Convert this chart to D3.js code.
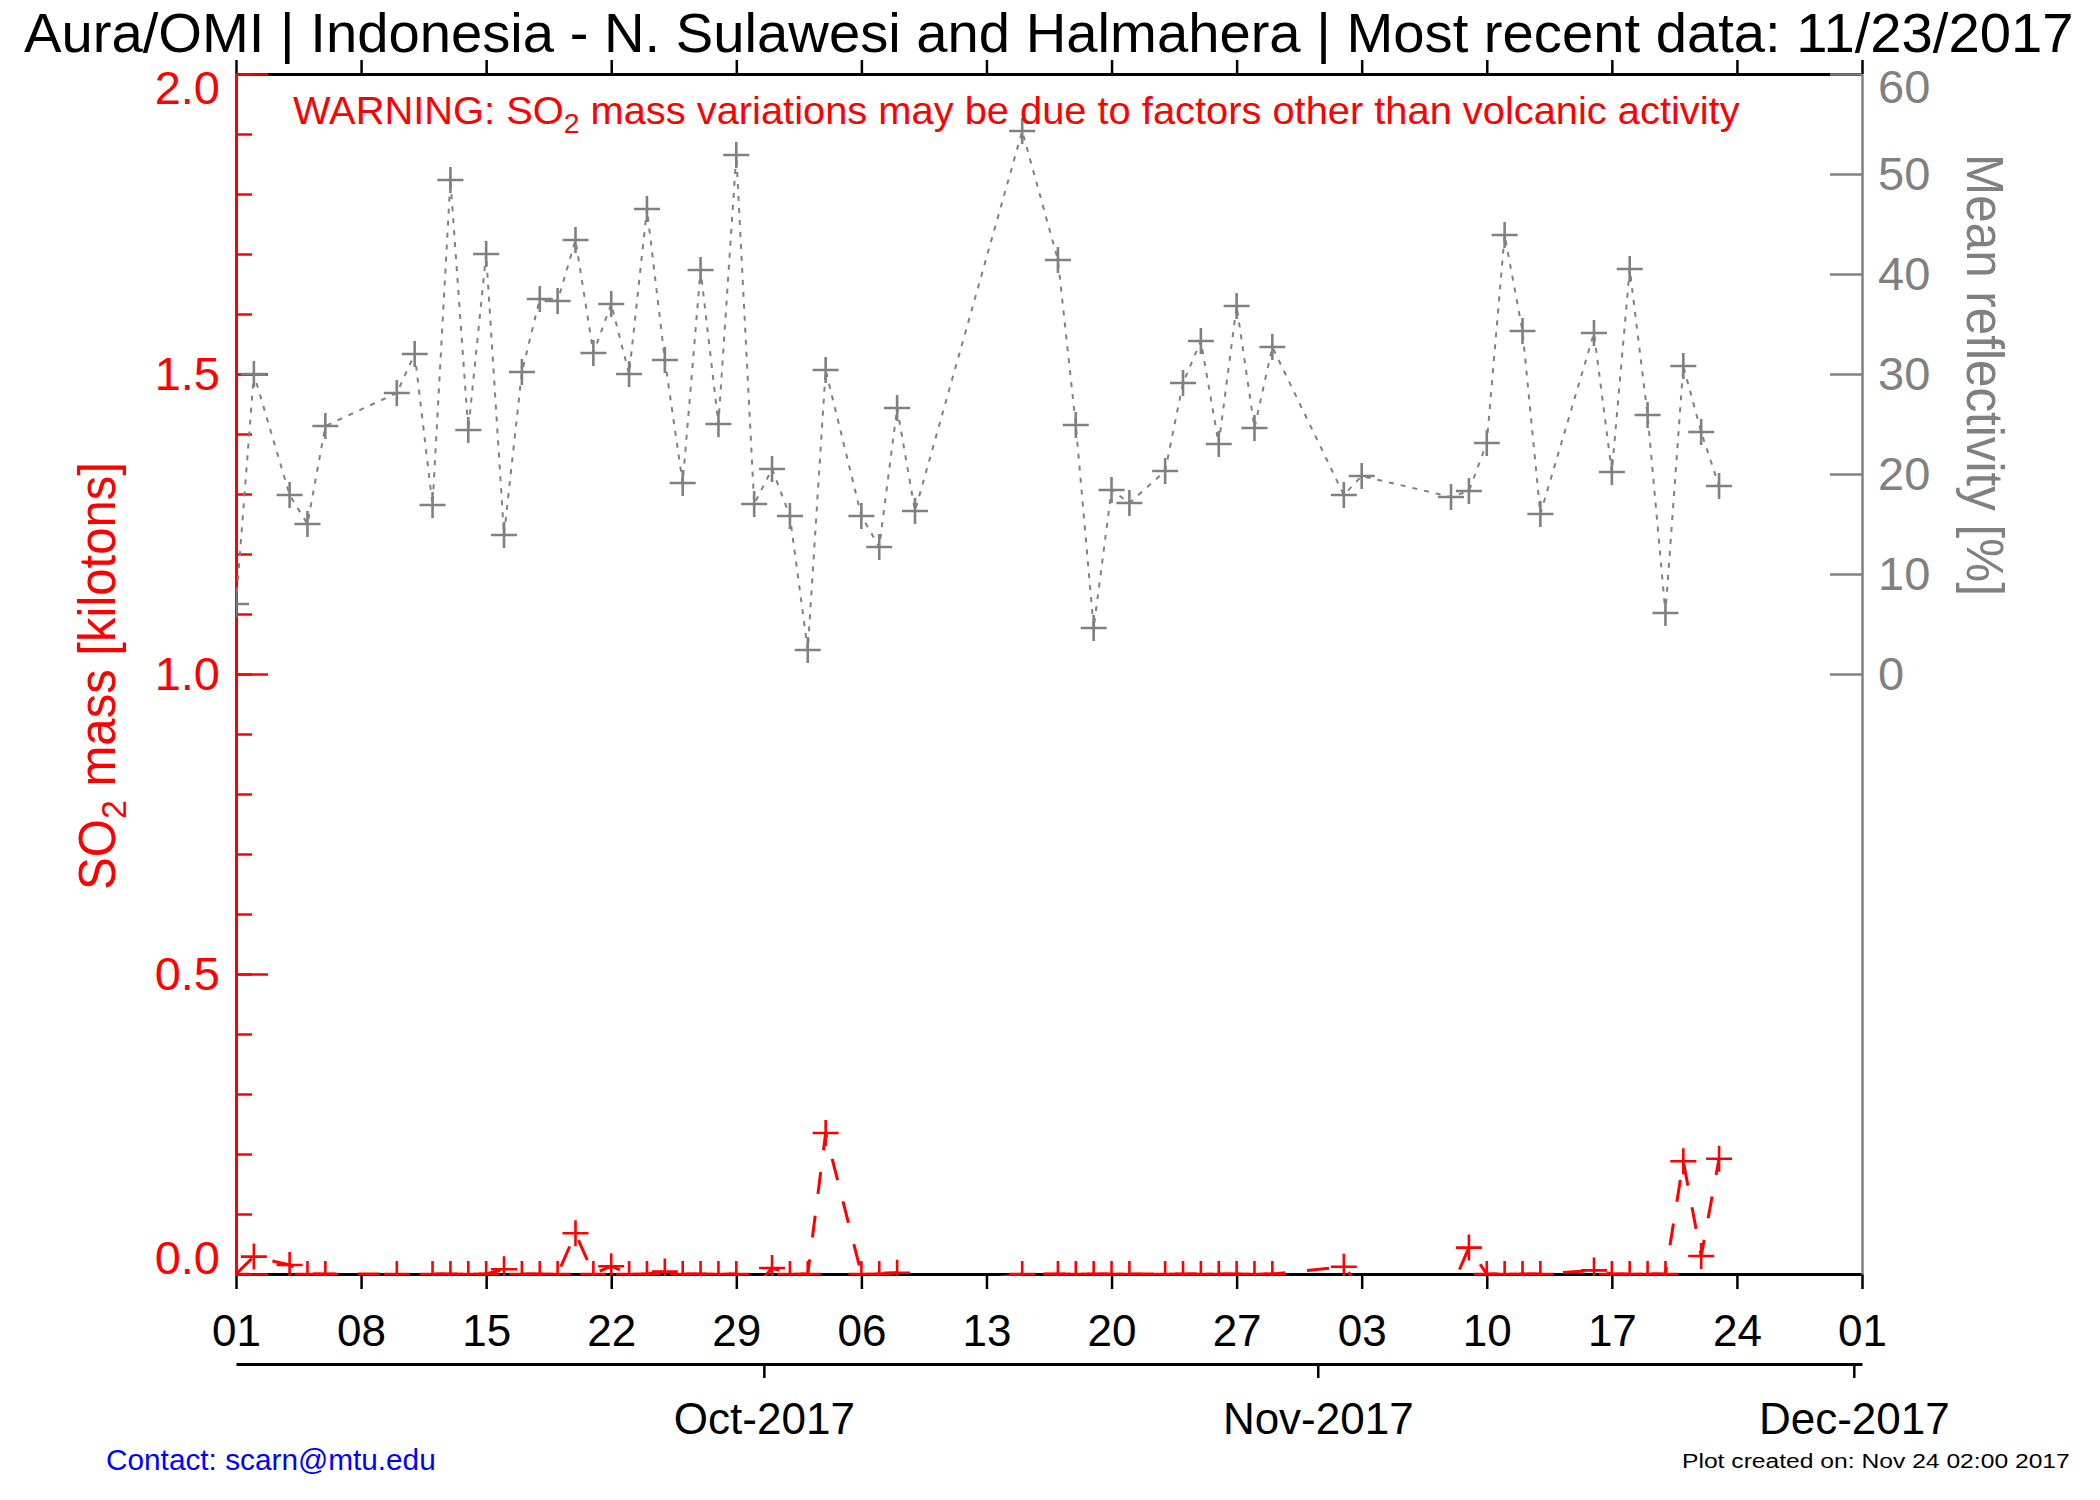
<!DOCTYPE html>
<html>
<head>
<meta charset="utf-8">
<script src="https://cdn.jsdelivr.net/npm/d3@7"></script>
<style>
  body { margin: 0; background: #fff; }
  svg text { font-family: "Liberation Sans", Arial, Helvetica, sans-serif; }
</style>
</head>
<body>
<svg id="chart" width="2100" height="1500"></svg>
<script>
var width = 2100;
var height = 1500;

// OMI overpass dates with data for the region
var dates = [
  "2017-09-01","2017-09-02","2017-09-04","2017-09-05","2017-09-06","2017-09-10","2017-09-11",
  "2017-09-12","2017-09-13","2017-09-14","2017-09-15","2017-09-16","2017-09-17","2017-09-18",
  "2017-09-19","2017-09-20","2017-09-21","2017-09-22","2017-09-23","2017-09-24","2017-09-25",
  "2017-09-26","2017-09-27","2017-09-28","2017-09-29","2017-09-30","2017-10-01","2017-10-02",
  "2017-10-03","2017-10-04","2017-10-06","2017-10-07","2017-10-08","2017-10-09","2017-10-15",
  "2017-10-17","2017-10-18","2017-10-19","2017-10-20","2017-10-21","2017-10-23","2017-10-24",
  "2017-10-25","2017-10-26","2017-10-27","2017-10-28","2017-10-29","2017-11-02","2017-11-03",
  "2017-11-08","2017-11-09","2017-11-10","2017-11-11","2017-11-12","2017-11-13","2017-11-16",
  "2017-11-17","2017-11-18","2017-11-19","2017-11-20","2017-11-21","2017-11-22","2017-11-23"
];

// SO2 mass [kilotons]
var so2Mass = [
  0.000, 0.029, 0.015, 0.000, 0.000, 0.000, -0.025,
  0.000, 0.000, 0.000, 0.000, 0.008, 0.000, 0.000,
  0.000, 0.068, 0.000, 0.013, 0.000, 0.000, 0.004,
  0.000, 0.000, 0.000, 0.000, -0.025, 0.010, 0.000,
  0.000, 0.235, 0.000, 0.000, 0.002, -0.025, 0.000,
  0.000, 0.000, 0.000, 0.000, 0.000, 0.000, 0.000,
  0.000, 0.000, 0.000, 0.000, 0.000, 0.012, -0.025,
  -0.025, 0.044, 0.000, 0.000, 0.000, 0.000, 0.006,
  0.000, 0.000, 0.000, 0.000, 0.188, 0.030, 0.192
];

// mean reflectivity [%]
var reflectivity = [
  7.0, 30.0, 17.9, 15.0, 24.8, 28.1, 32.0,
  16.9, 49.4, 24.4, 42.0, 13.9, 30.2, 37.5,
  37.3, 43.4, 32.1, 37.0, 30.0, 46.5, 31.4,
  19.1, 40.4, 25.0, 51.9, 17.0, 20.5, 15.8,
  2.4, 30.4, 15.8, 12.7, 26.6, 16.3, 54.3,
  41.4, 24.9, 4.6, 18.4, 17.1, 20.3, 29.1,
  33.3, 23.0, 36.8, 24.6, 32.7, 17.9, 19.8,
  17.7, 18.3, 23.1, 43.9, 34.3, 16.0, 34.1,
  20.2, 40.5, 25.9, 6.1, 30.8, 24.2, 18.8
];

var dayTicks = ["2017-09-01","2017-09-08","2017-09-15","2017-09-22","2017-09-29","2017-10-06",
  "2017-10-13","2017-10-20","2017-10-27","2017-11-03","2017-11-10","2017-11-17","2017-11-24","2017-12-01"];
var monthTicks = ["2017-10-01","2017-11-01","2017-12-01"];
var so2Ticks = [0, 0.5, 1.0, 1.5, 2.0];
var so2MinorTicks = d3.range(0, 21).map(function(i) { return i / 10; });
var reflTicks = [0, 10, 20, 30, 40, 50, 60];

var RED = "#ff0000", GRAY = "#808080";
var plot = {left: 236, right: 1862, top: 74, bottom: 1274};

var parse = d3.utcParse("%Y-%m-%d");

var x = d3.scaleUtc()
    .domain([parse("2017-09-01"), parse("2017-12-01")])
    .range([plot.left, plot.right]);
// month labels sit about half a day before the month boundary in the original plot
var xMonth = d3.scaleUtc()
    .domain(x.domain().map(function(d) { return d3.utcHour.offset(d, 11); }))
    .range(x.range());
var ySo2 = d3.scaleLinear().domain([0, 2]).range([plot.bottom, plot.top]);
// reflectivity only uses the upper half of the frame
var yRefl = d3.scaleLinear().domain([-60, 60]).range([plot.bottom, plot.top]);

var svg = d3.select("#chart");
svg.append("rect").attr("width", width).attr("height", height).attr("fill", "#fff");

function styleAxis(g, color, lineW, tickW, fontSize) {
  g.attr("font-family", null).attr("font-size", fontSize);
  g.select(".domain").attr("stroke", color).attr("stroke-width", lineW);
  g.selectAll(".tick line").attr("stroke", color).attr("stroke-width", tickW);
  g.selectAll(".tick text").attr("fill", color);
}

// scale a text horizontally so it spans w pixels
function fitWidth(sel, w, anchorX) {
  var natural = sel.node().getComputedTextLength();
  var f = w / natural;
  sel.attr("transform", "translate(" + anchorX + ",0) scale(" + f + ",1) translate(" + (-anchorX) + ",0)");
}

// ---- x axes ----
var gTop = svg.append("g").attr("transform", "translate(0," + plot.top + ")")
    .call(d3.axisTop(x).tickValues(dayTicks.map(parse)).tickSize(14).tickSizeOuter(0).tickFormat(""));
styleAxis(gTop, "#000", 3, 2.5, 44);

var gBot = svg.append("g").attr("transform", "translate(0," + plot.bottom + ")")
    .call(d3.axisBottom(x).tickValues(dayTicks.map(parse)).tickSize(15).tickPadding(26)
      .tickSizeOuter(0).tickFormat(d3.utcFormat("%d")));
styleAxis(gBot, "#000", 3, 2.5, 44);

var gMonth = svg.append("g").attr("transform", "translate(0,1364)")
    .call(d3.axisBottom(xMonth).tickValues(monthTicks.map(parse)).tickSize(14).tickPadding(25)
      .tickSizeOuter(0).tickFormat(d3.utcFormat("%b-%Y")));
styleAxis(gMonth, "#000", 3, 2.5, 44);

// ---- left axis (SO2) ----
var gLMinor = svg.append("g").attr("transform", "translate(" + plot.left + ",0)")
    .call(d3.axisLeft(ySo2).tickValues(so2MinorTicks).tickSize(-16).tickSizeOuter(0).tickFormat(""));
styleAxis(gLMinor, RED, 3, 2.5, 47);
var gL = svg.append("g").attr("transform", "translate(" + plot.left + ",0)")
    .call(d3.axisLeft(ySo2).tickValues(so2Ticks).tickSize(-32).tickPadding(16)
      .tickSizeOuter(0).tickFormat(d3.format(".1f")));
styleAxis(gL, RED, 3, 2.5, 47);
gL.selectAll(".tick text").filter(function(d) { return d === 2; }).attr("y", 14);
gL.selectAll(".tick text").filter(function(d) { return d === 0; }).attr("y", -16);

// ---- right axis (reflectivity) ----
var gR = svg.append("g").attr("transform", "translate(" + plot.right + ",0)")
    .call(d3.axisRight(yRefl).tickValues(reflTicks).tickSize(-32).tickPadding(16)
      .tickSizeOuter(0).tickFormat(d3.format("d")));
styleAxis(gR, GRAY, 2.5, 2.5, 47);
gR.selectAll(".tick text").filter(function(d) { return d === 60; }).attr("y", 13);

// ---- data ----
var points = dates.map(function(d, i) {
  return {date: parse(d), so2: so2Mass[i], refl: reflectivity[i]};
});

svg.append("clipPath").attr("id", "plotClip")
  .append("rect")
    .attr("x", plot.left).attr("y", plot.top - 2)
    .attr("width", plot.right - plot.left).attr("height", plot.bottom - plot.top + 4);

var gData = svg.append("g").attr("clip-path", "url(#plotClip)");

// IDL style "+" plot symbol drawn with strokes
var plusType = {
  draw: function(context, size) {
    var r = Math.sqrt(size) / 2;
    context.moveTo(-r, 0); context.lineTo(r, 0);
    context.moveTo(0, -r); context.lineTo(0, r);
  }
};
var plus = d3.symbol().type(plusType).size(26 * 26);

function drawSeries(accessor, yScale, color, dash, lineW) {
  gData.append("path")
    .datum(points)
    .attr("fill", "none")
    .attr("stroke", color)
    .attr("stroke-width", lineW)
    .attr("stroke-dasharray", dash)
    .attr("d", d3.line().x(function(d) { return x(d.date); }).y(function(d) { return yScale(accessor(d)); }));

  gData.append("g").selectAll("path")
    .data(points)
    .join("path")
      .attr("transform", function(d) { return "translate(" + x(d.date) + "," + yScale(accessor(d)) + ")"; })
      .attr("d", plus)
      .attr("fill", "none")
      .attr("stroke", color)
      .attr("stroke-width", 2.6);
}

drawSeries(function(d) { return d.refl; }, yRefl, GRAY, "5,7", 2);
drawSeries(function(d) { return d.so2; }, ySo2, RED, "22,22", 3);

// ---- texts ----
var title = svg.append("text")
    .attr("x", 24).attr("y", 52)
    .attr("font-size", 56).attr("fill", "#000")
    .text("Aura/OMI | Indonesia - N. Sulawesi and Halmahera | Most recent data: 11/23/2017");
fitWidth(title, 2050, 24);

var warn = svg.append("text")
    .attr("x", 293).attr("y", 124)
    .attr("font-size", 38).attr("fill", RED);
warn.append("tspan").text("WARNING: SO");
warn.append("tspan").attr("font-size", 27).attr("dy", 9).text("2");
warn.append("tspan").attr("dy", -9).text(" mass variations may be due to factors other than volcanic activity");
fitWidth(warn, 1447, 293);

var leftTitle = svg.append("g")
    .attr("transform", "translate(115,676) rotate(-90)")
  .append("text")
    .attr("text-anchor", "middle")
    .attr("font-size", 52).attr("fill", RED);
leftTitle.append("tspan").text("SO");
leftTitle.append("tspan").attr("font-size", 36).attr("dy", 11).text("2");
leftTitle.append("tspan").attr("dy", -11).text(" mass [kilotons]");
fitWidth(leftTitle, 428, 0);

var rightTitle = svg.append("g")
    .attr("transform", "translate(1967,375) rotate(90)")
  .append("text")
    .attr("text-anchor", "middle")
    .attr("font-size", 52).attr("fill", GRAY)
    .text("Mean reflectivity [%]");
fitWidth(rightTitle, 442, 0);

var contact = svg.append("text")
    .attr("x", 106).attr("y", 1470)
    .attr("font-size", 30).attr("fill", "#0000ff")
    .text("Contact: scarn@mtu.edu");
fitWidth(contact, 330, 106);

var created = svg.append("text")
    .attr("x", 1682).attr("y", 1468)
    .attr("font-size", 21).attr("fill", "#000")
    .text("Plot created on: Nov 24 02:00 2017");
fitWidth(created, 388, 1682);
</script>
</body>
</html>
